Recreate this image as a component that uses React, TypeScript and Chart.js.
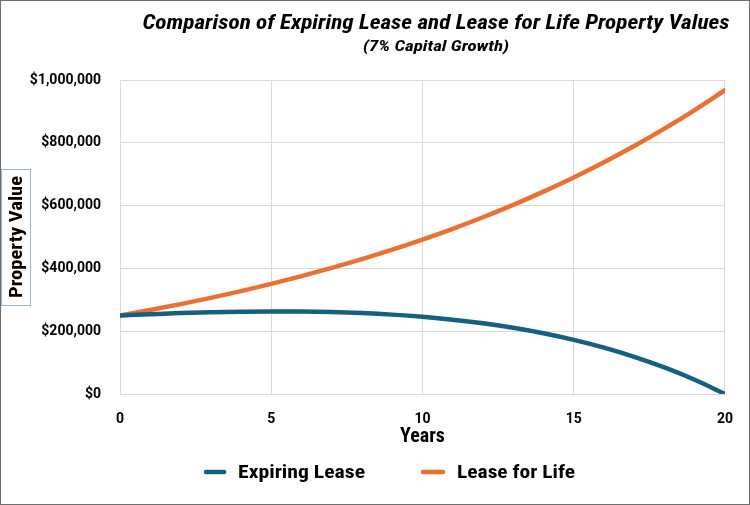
import React, { useEffect, useRef } from "react";
import { Chart, registerables } from "chart.js";

Chart.register(...registerables);

const years = [0, 1, 2, 3, 4, 5, 6, 7, 8, 9, 10, 11, 12, 13, 14, 15, 16, 17, 18, 19, 20];
const expiringLease = [
  250000, 254000, 257600, 260300, 262100, 263000, 262600, 260900, 257700, 252800,
  245900, 236800, 225200, 210900, 193400, 172400, 147600, 118500, 84500, 45200, 0,
];
const leaseForLife = [
  250000, 267500, 286200, 306200, 327700, 350600, 375200, 401500, 429600, 459600,
  491800, 526200, 563000, 602400, 644600, 689700, 738000, 789700, 845000, 904100, 967400,
];
const seriesNames = ["Expiring Lease", "Lease for Life"];
const seriesColors = ["#156082", "#E97132"];
const xTicks = [0, 5, 10, 15, 20];
const yTicks = [0, 200000, 400000, 600000, 800000, 1000000];
const titleText = "Comparison of Expiring Lease and Lease for Life Property Values";
const subtitleText = "(7% Capital Growth)";
const xTitle = "Years";
const yTitle = "Property Value";

const FONT = "'Roboto Condensed', 'Liberation Sans Narrow', 'Roboto', 'Liberation Sans', sans-serif";
const TICK_FONT = "'Roboto', 'Liberation Sans', sans-serif";

function fitText(
  ctx: CanvasRenderingContext2D,
  text: string,
  x: number,
  y: number,
  width: number,
  font: string,
  align: "left" | "center" = "center"
) {
  ctx.save();
  ctx.font = font;
  ctx.textAlign = align;
  ctx.textBaseline = "alphabetic";
  const w = ctx.measureText(text).width;
  ctx.translate(x, y);
  ctx.scale(width / w, 1);
  ctx.fillText(text, 0, 0);
  ctx.restore();
}

const decorPlugin = {
  id: "decor",
  afterDraw(chart: any) {
    const ctx: CanvasRenderingContext2D = chart.ctx;
    ctx.save();
    ctx.fillStyle = "#000000";
    // outer frame
    ctx.strokeStyle = "#6e6e6e";
    ctx.lineWidth = 1;
    ctx.strokeRect(0.5, 0.5, chart.width - 1, chart.height - 1);
    // titles
    fitText(ctx, titleText, 436, 29, 587, "italic bold 21px " + FONT);
    fitText(ctx, subtitleText, 436, 51, 146, "italic bold 15px " + FONT);
    // y axis title box
    ctx.strokeStyle = "#9fb6ca";
    ctx.strokeRect(1.5, 169.5, 29, 136);
    ctx.save();
    ctx.translate(22, 237);
    ctx.rotate(-Math.PI / 2);
    fitText(ctx, yTitle, 0, 0, 122, "bold 19px " + FONT);
    ctx.restore();
    // legend
    const items = [
      { x0: 206, x1: 224, tx: 238, tw: 127 },
      { x0: 423, x1: 443, tx: 457, tw: 118 },
    ];
    const ds = chart.data.datasets;
    items.forEach((it, i) => {
      ctx.strokeStyle = ds[i].borderColor;
      ctx.lineWidth = 4.5;
      ctx.lineCap = "round";
      ctx.beginPath();
      ctx.moveTo(it.x0, 472);
      ctx.lineTo(it.x1, 472);
      ctx.stroke();
      ctx.fillStyle = "#000000";
      fitText(ctx, ds[i].label, it.tx, 478, it.tw, "bold 18px " + FONT, "left");
    });
    ctx.restore();
  },
};

export default function App() {
  const ref = useRef<HTMLCanvasElement | null>(null);
  useEffect(() => {
    document.body.style.margin = "0";
    const canvas = ref.current;
    if (!canvas) return;
    const chart = new Chart(canvas, {
      type: "line",
      data: {
        datasets: [expiringLease, leaseForLife].map((vals, i) => ({
          label: seriesNames[i],
          data: years.map((x, j) => ({ x, y: vals[j] })),
          borderColor: seriesColors[i],
          backgroundColor: seriesColors[i],
          borderWidth: 4.5,
          borderCapStyle: "round" as const,
          pointRadius: 0,
          tension: 0.4,
          cubicInterpolationMode: "monotone" as const,
          fill: false,
        })),
      },
      options: {
        animation: false,
        responsive: false,
        maintainAspectRatio: false,
        layout: { padding: { top: 80, left: 30, right: 24, bottom: 56 } },
        plugins: {
          legend: { display: false },
          title: { display: false },
          tooltip: { enabled: false },
        },
        scales: {
          x: {
            type: "linear",
            min: 0,
            max: 20,
            afterBuildTicks: (s: any) => {
              s.ticks = xTicks.map((v) => ({ value: v }));
            },
            afterFit: (s: any) => {
              s.height = 55;
            },
            grid: { color: "#d9d9d9", drawTicks: false, lineWidth: 1 },
            border: { color: "#d9d9d9" },
            ticks: {
              padding: 17,
              color: "#000000",
              font: { family: TICK_FONT, size: 14, weight: "bold" },
              maxRotation: 0,
            },
            title: {
              display: true,
              text: xTitle,
              color: "#000000",
              padding: 0,
              font: { family: FONT, size: 20, weight: "bold" },
            },
          },
          y: {
            min: 0,
            max: 1000000,
            afterBuildTicks: (s: any) => {
              s.ticks = yTicks.map((v) => ({ value: v }));
            },
            afterFit: (s: any) => {
              s.width = 90;
            },
            grid: { color: "#d9d9d9", drawTicks: false, lineWidth: 1 },
            border: { display: false },
            ticks: {
              padding: 19,
              color: "#000000",
              font: { family: TICK_FONT, size: 14, weight: "bold" },
              callback: (v: any) => "$" + Number(v).toLocaleString("en-US"),
            },
          },
        },
      },
      plugins: [decorPlugin],
    });
    return () => chart.destroy();
  }, []);
  return <canvas ref={ref} width={750} height={505} style={{ display: "block" }} />;
}
